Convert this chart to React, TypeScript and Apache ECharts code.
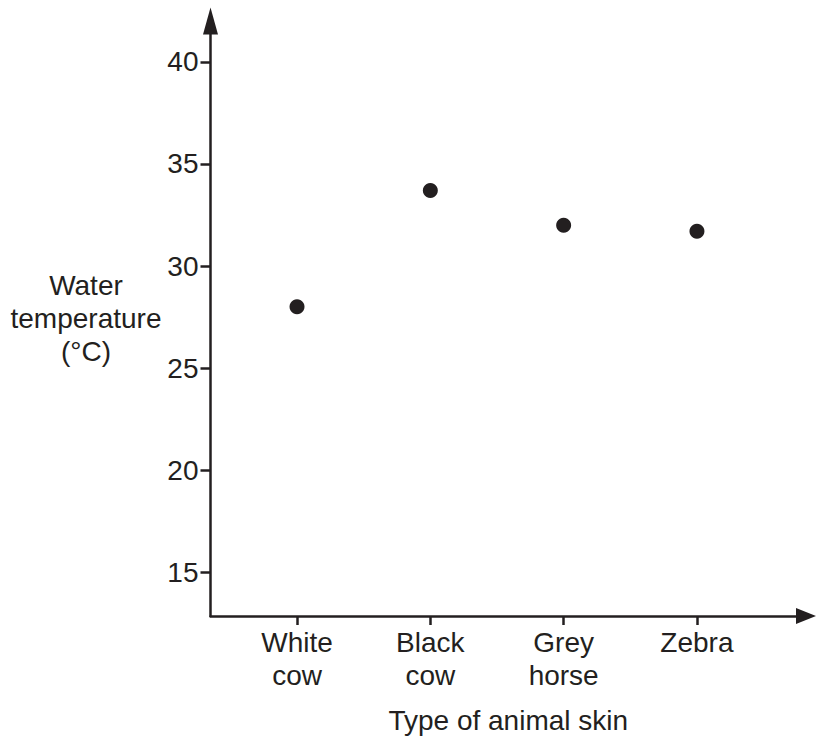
import React, { useEffect, useRef } from "react";
import * as echarts from "echarts";

const categories = ["White\ncow", "Black\ncow", "Grey\nhorse", "Zebra"];
const positions = [1, 2, 3, 4];
const temperatures = [28, 33.7, 32, 31.7];
const yTicks = [15, 20, 25, 30, 35, 40];

const INK = "#231f20";
const FONT = "'Liberation Sans', Arial, sans-serif";

export default function App() {
  const ref = useRef<HTMLDivElement>(null);
  useEffect(() => {
    if (!ref.current) return;
    const chart = echarts.init(ref.current, undefined, { renderer: "svg" });
    const data = positions.map((p, i) => [p, temperatures[i]]);
    chart.setOption({
      animation: false,
      backgroundColor: "#ffffff",
      grid: { left: 210.5, right: 10, top: 21, bottom: 124, containLabel: false },
      xAxis: {
        type: "value",
        min: 0.351,
        max: 4.818,
        name: "Type of animal skin",
        nameLocation: "middle",
        nameGap: 104,
        nameTextStyle: { fontSize: 28, fontFamily: FONT, color: INK, verticalAlign: "middle", align: "center" },
        splitLine: { show: false },
        axisLine: {
          show: true,
          lineStyle: { color: INK, width: 2.5 },
          symbol: ["none", "triangle"],
          symbolSize: [16, 20],
        },
        axisTick: {
          show: true,
          inside: false,
          length: 9,
          lineStyle: { color: INK, width: 2.5 },
          customValues: positions,
        },
        axisLabel: {
          show: true,
          customValues: positions,
          margin: 10,
          fontSize: 28,
          lineHeight: 33,
          fontFamily: FONT,
          color: INK,
          formatter: (v: number) => {
            const idx = positions.indexOf(Math.round(v));
            return idx >= 0 ? categories[idx] : "";
          },
        },
      },
      yAxis: {
        type: "value",
        min: 12.86,
        max: 42,
        name: "Water\ntemperature\n(°C)",
        nameLocation: "middle",
        nameGap: 121,
        nameRotate: 0,
        nameTextStyle: {
          fontSize: 28,
          lineHeight: 33,
          fontFamily: FONT,
          color: INK,
          align: "center",
          verticalAlign: "middle",
          padding: [0, 0, 13, 0],
        },
        splitLine: { show: false },
        axisLine: {
          show: true,
          lineStyle: { color: INK, width: 2.5 },
          symbol: ["none", "triangle"],
          symbolSize: [15, 27],
        },
        axisTick: {
          show: true,
          inside: false,
          length: 10,
          lineStyle: { color: INK, width: 2.5 },
          customValues: yTicks,
        },
        axisLabel: {
          show: true,
          customValues: yTicks,
          margin: 12,
          fontSize: 28,
          fontFamily: FONT,
          color: INK,
        },
      },
      series: [
        {
          type: "scatter",
          data,
          symbol: "circle",
          symbolSize: 15,
          itemStyle: { color: INK, opacity: 1 },
        },
      ],
    });
    return () => chart.dispose();
  }, []);
  return (
    <div
      ref={ref}
      style={{ position: "fixed", left: 0, top: 0, width: 816, height: 740 }}
    />
  );
}
